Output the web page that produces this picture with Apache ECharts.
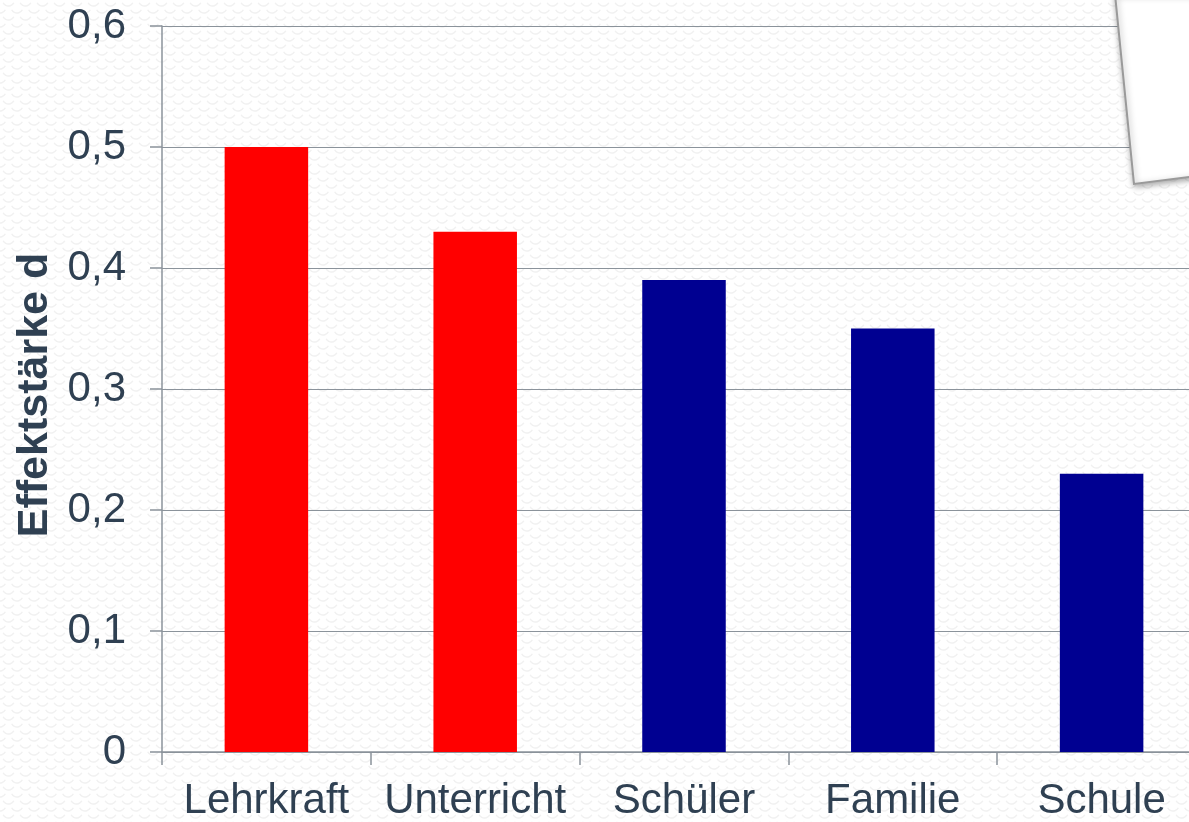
<!DOCTYPE html>
<html>
<head>
<meta charset="utf-8">
<script src="https://cdn.jsdelivr.net/npm/echarts@6/dist/echarts.min.js"></script>
<style>
  html, body { margin: 0; padding: 0; background: #fff; }
  #chart { width: 1189px; height: 822px; }
</style>
</head>
<body>
<div id="chart"></div>
<script>
var categories = ['Lehrkraft', 'Unterricht', 'Schüler', 'Familie', 'Schule']
var effectSizes = [0.5, 0.43, 0.39, 0.35, 0.23]
var barColors = ['#ff0000', '#ff0000', '#000091', '#000091', '#000091']
var axisName = 'Effektstärke d'

// faint scalloped paper texture behind the chart
function makeTexture() {
  var c = document.createElement('canvas')
  c.width = 17
  c.height = 14
  var ctx = c.getContext('2d')
  ctx.strokeStyle = '#f1f1f1'
  ctx.lineWidth = 1.5
  ctx.beginPath()
  ctx.arc(8.5, 0, 6, 0.15 * Math.PI, 0.85 * Math.PI)
  ctx.stroke()
  ctx.beginPath()
  ctx.arc(0, 7, 6, 0.15 * Math.PI, 0.85 * Math.PI)
  ctx.stroke()
  ctx.beginPath()
  ctx.arc(17, 7, 6, 0.15 * Math.PI, 0.85 * Math.PI)
  ctx.stroke()
  return c.toDataURL()
}
document.body.style.backgroundImage = 'url(' + makeTexture() + ')'

var textColor = '#2f4052'
var lineColor = '#8b939b'

var chart = echarts.init(document.getElementById('chart'))
chart.setOption({
  backgroundColor: 'transparent',
  animation: false,
  grid: {
    left: 162,
    right: -17,
    top: 26,
    bottom: 70,
    outerBoundsMode: 'none'
  },
  xAxis: {
    type: 'category',
    data: categories,
    axisLine: { show: true, lineStyle: { color: lineColor, width: 1.5 } },
    axisTick: { show: true, interval: 0, length: 13, lineStyle: { color: lineColor, width: 1.5 } },
    axisLabel: {
      interval: 0,
      hideOverlap: false,
      color: textColor,
      fontFamily: 'Liberation Sans, Arial, sans-serif',
      fontSize: 42,
      margin: 28
    }
  },
  yAxis: {
    type: 'value',
    min: 0,
    max: 0.6,
    interval: 0.1,
    name: axisName,
    nameLocation: 'middle',
    nameRotate: 90,
    nameGap: 103,
    nameTextStyle: {
      color: textColor,
      fontFamily: 'Liberation Sans, Arial, sans-serif',
      fontSize: 43,
      fontWeight: 'bold',
      padding: [0, 12, 0, 0]
    },
    axisLine: { show: true, lineStyle: { color: lineColor, width: 1.5 } },
    axisTick: { show: true, length: 12, lineStyle: { color: lineColor, width: 1.5 } },
    splitLine: { lineStyle: { color: lineColor, width: 1.2 } },
    axisLabel: {
      color: textColor,
      fontFamily: 'Liberation Sans, Arial, sans-serif',
      fontSize: 42,
      margin: 36,
      formatter: function (v) {
        return String(Math.round(v * 10) / 10).replace('.', ',')
      }
    }
  },
  series: [
    {
      type: 'bar',
      barWidth: '40%',
      data: effectSizes.map(function (v, i) {
        return { value: v, itemStyle: { color: barColors[i] } }
      })
    }
  ],
  graphic: [
    {
      type: 'polygon',
      z: 100,
      shape: { points: [[1115, -6], [1134, 184], [1196, 176], [1196, -6]] },
      style: {
        fill: '#ffffff',
        stroke: '#9a9a9a',
        lineWidth: 2,
        shadowBlur: 6,
        shadowOffsetX: 1,
        shadowOffsetY: 2,
        shadowColor: 'rgba(0,0,0,0.35)'
      }
    }
  ]
})
</script>
</body>
</html>
